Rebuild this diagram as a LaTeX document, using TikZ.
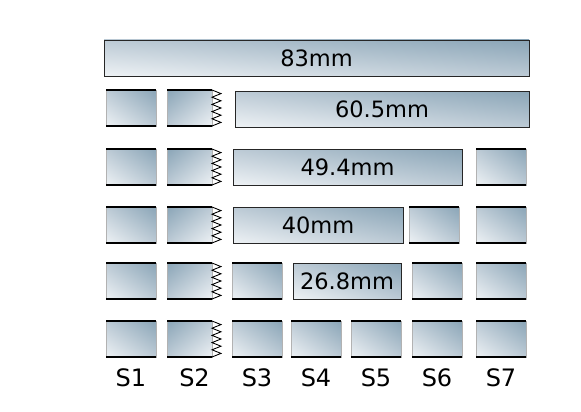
\documentclass[tikz,border=0pt]{standalone}
\usepackage{fontspec}
\setmainfont{DejaVu Sans}
\usetikzlibrary{calc}
\usetikzlibrary{shadings}

\definecolor{steellight}{HTML}{EEF2F5}
\definecolor{steelmid}{HTML}{BCCAD5}
\definecolor{steeldark}{HTML}{8AA5B7}

\tikzset{
  steel/.style={shade, lower left=steellight, upper right=steeldark, upper left=steelmid, lower right=steelmid},
  bar/.style={steel, draw=black!85, line width=0.9pt, anchor=north west, minimum height=36pt, inner sep=0pt, outer sep=0pt, font=\fontsize{22.5}{22.5}\selectfont},
  piece/.style={steel, draw=gray!60, line width=0.8pt, anchor=north west, minimum width=50pt, minimum height=36pt, inner sep=0pt, outer sep=0pt,
    append after command={(\tikzlastnode.north west) edge[black, line width=1.8pt] (\tikzlastnode.north east)
      (\tikzlastnode.south west) edge[black, line width=1.8pt] (\tikzlastnode.south east)}},
  cutpiece/.style={piece, minimum width=45pt, upper left=steeldark, lower right=steellight, lower left=steelmid, upper right=steelmid},
  slabel/.style={font=\fontsize{24}{24}\selectfont, inner sep=0pt}
}

\begin{document}
\begin{tikzpicture}[x=1pt, y=-1pt]
\useasboundingbox (0,0) rectangle (581,412);

\node[bar, minimum width=425pt] (bar83) at (104,40) {83mm};

\foreach \r/\y in {2/90, 3/149, 4/207, 5/263, 6/321} {
  \node[piece] (r\r-s1) at (106,\y) {};
  \node[cutpiece] (r\r-s2) at (167,\y) {};
  \draw[black, line width=0.9pt, line join=miter] (r\r-s2.north east) \foreach \k in {1,...,5} { -- ++(9,3.6) -- ++(-9,3.6) };
}

\node[bar, minimum width=294pt] (bar605) at (235,91) {60.5mm};

\node[bar, minimum width=229pt] (bar494) at (233,149) {49.4mm};
\node[piece] (r3-s7) at (476,149) {};

\node[bar, minimum width=170pt] (bar40) at (233,207) {40mm};
\node[piece] (r4-s6) at (409,207) {};
\node[piece] (r4-s7) at (476,207) {};

\node[piece] (r5-s3) at (232,263) {};
\node[bar, minimum width=108pt] (bar268) at (293,263) {26.8mm};
\node[piece] (r5-s6) at (412,263) {};
\node[piece] (r5-s7) at (476,263) {};

\foreach \n/\x in {3/232, 4/291, 5/351, 6/412, 7/476}
  \node[piece] (r6-s\n) at (\x,321) {};

\foreach \n in {1,3,4,5,6,7}
  \node[slabel] (lab\n) at ($(r6-s\n.south)+(0,21)$) {S\n};
\node[slabel] (lab2) at ($(r6-s2.south)+(5,21)$) {S2};

\end{tikzpicture}
\end{document}
